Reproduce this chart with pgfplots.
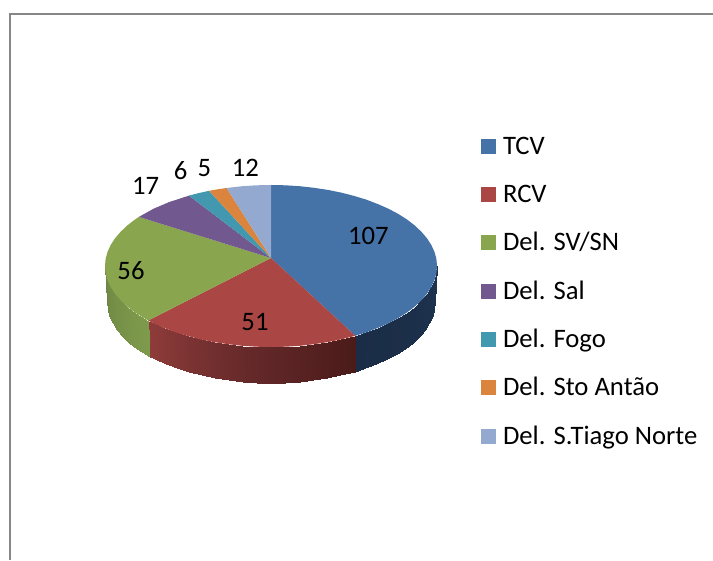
\documentclass[border=0pt]{standalone}
\usepackage{pgfplots}
\pgfplotsset{compat=1.18}
\usepackage{pgfplotstable}
\usepackage{fontspec}
\setmainfont{Carlito}
\definecolor{cA}{HTML}{4572A7}
\definecolor{cB}{HTML}{AA4643}
\definecolor{cC}{HTML}{89A54E}
\definecolor{cD}{HTML}{71588F}
\definecolor{cE}{HTML}{4198AF}
\definecolor{cF}{HTML}{DB843D}
\definecolor{cG}{HTML}{93A9CF}
\pgfplotstableread{
x y c
437 266 50
435 302 50
436.4 273.1 49
434.4 309.1 49
434.5 280.1 48
432.5 316.1 48
431.3 287 47
429.4 323 47
427 293.7 46
425.1 329.7 46
421.4 300.2 45
419.6 336.2 45
414.8 306.5 44
413 342.5 44
407 312.5 43
405.3 348.5 43
398.2 318.1 42
396.6 354.1 42
388.4 323.3 41.5
387 359.3 41.5
377.7 328 41
376.4 364 41
366.2 332.4 40.5
365.1 368.4 40.5
355.3 335.8 40
354.8 371.8 40
}\sideA
\pgfplotstableread{
x y c
355.3 335.8 20
354.8 371.8 20
341.2 339.4 20.7
340.3 375.4 20.7
327.8 342.1 21.3
327.1 378.1 21.3
314 344.2 22
313.4 380.2 22
299.8 345.8 22.6
299.5 381.8 22.6
285.5 346.7 23.3
285.3 382.7 23.3
271 347 23.9
271 383 23.9
256.5 346.7 24.5
256.7 382.7 24.5
242.2 345.8 25.2
242.5 381.8 25.2
228 344.2 25.8
228.6 380.2 25.8
214.2 342.1 26.5
214.9 378.1 26.5
200.8 339.4 27.1
201.7 375.4 27.1
188 336.1 27.7
189 372.1 27.7
175.8 332.4 28.4
176.9 368.4 28.4
164.3 328 29
165.6 364 29
153.6 323.3 29.7
155 359.3 29.7
148.2 320.5 30
149.7 356.5 30
}\sideB
\pgfplotstableread{
x y c
148.2 320.5 10
149.7 356.5 10
135 312.5 8.3
136.7 348.5 8.3
127.2 306.5 7.1
129 342.5 7.1
120.6 300.2 5.9
122.4 336.2 5.9
115 293.7 4.7
116.9 329.7 4.7
110.7 287 3.5
112.6 323 3.5
107.5 280.1 2.4
109.5 316.1 2.4
105.6 273.1 1.2
107.6 309.1 1.2
105 266 0
107 302 0
}\sideC
\begin{document}
\begin{tikzpicture}
\begin{axis}[
  scale only axis, width=534.75pt, height=420pt,
  xmin=0, xmax=713, ymin=0, ymax=560, y dir=reverse,
  hide axis, clip=false,
  font=\fontsize{20}{24}\selectfont,
  colormap={sides}{
    rgb255(0)=(110,134,67) rgb255(10)=(126,155,76)
    rgb255(20)=(74,27,25) rgb255(25)=(102,41,42) rgb255(30)=(142,60,58)
    rgb255(40)=(27,45,70) rgb255(50)=(30,51,80)},
  point meta min=0, point meta max=50,
  legend cell align=left,
  legend style={draw=none, fill=none, inner sep=0pt, outer sep=0pt,
    at={(481/713,1-134.2/560)}, anchor=north west,
    row sep=18.25pt,
    nodes={inner sep=0pt, text height=15pt, text depth=3pt, anchor=west},
    font=\fontsize{20}{24}\selectfont,
    /tikz/column 1/.style={column sep=5.25pt}},
  legend image code/.code={\fill[#1] (0pt,-5.6pt) rectangle (11.25pt,5.6pt);},
]
% frame
\addplot[forget plot, color=black!47, line width=1.5pt] coordinates {(10,560)(10,14)(713,14)};
% sides
\addplot[forget plot, surf, shader=interp, mesh/cols=2, point meta=\thisrow{c}] table[x=x,y=y] {\sideA};
\addplot[forget plot, surf, shader=interp, mesh/cols=2, point meta=\thisrow{c}] table[x=x,y=y] {\sideB};
\addplot[forget plot, surf, shader=interp, mesh/cols=2, point meta=\thisrow{c}] table[x=x,y=y] {\sideC};
% top faces
\addplot[fill=cA, draw=none] coordinates {(271,258)(271,185)(285.5,185.3)(299.8,186.2)(314,187.8)(327.8,189.9)(341.2,192.6)(354,195.9)(366.2,199.6)(377.7,204)(388.4,208.7)(398.2,213.9)(407,219.5)(414.8,225.5)(421.4,231.8)(427,238.3)(431.3,245)(434.5,251.9)(436.4,258.9)(437,266)(436.4,273.1)(434.5,280.1)(431.3,287)(427,293.7)(421.4,300.2)(414.8,306.5)(407,312.5)(398.2,318.1)(388.4,323.3)(377.7,328)(366.2,332.4)(355.3,335.8)} --cycle;
\addlegendentry{TCV}
\addplot[fill=cB, draw=none] coordinates {(271,258)(355.3,335.8)(341.2,339.4)(327.8,342.1)(314,344.2)(299.8,345.8)(285.5,346.7)(271,347)(256.5,346.7)(242.2,345.8)(228,344.2)(214.2,342.1)(200.8,339.4)(188,336.1)(175.8,332.4)(164.3,328)(153.6,323.3)(148.2,320.5)} --cycle;
\addlegendentry{RCV}
\addplot[fill=cC, draw=none] coordinates {(271,258)(148.2,320.5)(135,312.5)(127.2,306.5)(120.6,300.2)(115,293.7)(110.7,287)(107.5,280.1)(105.6,273.1)(105,266)(105.6,258.9)(107.5,251.9)(110.7,245)(115,238.3)(120.6,231.8)(127.2,225.5)(135,219.5)(138.9,216.9)} --cycle;
\addlegendentry{Del. SV/SN}
\addplot[fill=cD, draw=none] coordinates {(271,258)(138.9,216.9)(153.6,208.7)(168.8,202.2)(189,195.6)} --cycle;
\addlegendentry{Del. Sal}
\addplot[fill=cE, draw=none] coordinates {(271,258)(189,195.6)(198.2,193.2)(209.1,190.8)} --cycle;
\addlegendentry{Del. Fogo}
\addplot[fill=cF, draw=none] coordinates {(271,258)(209.1,190.8)(217,189.4)(226.6,188)} --cycle;
\addlegendentry{Del. Sto Antão}
\addplot[fill=cG, draw=none] coordinates {(271,258)(226.6,188)(242.2,186.2)(256.5,185.3)(271,185)} --cycle;
\addlegendentry{Del. S.Tiago Norte}
% value labels
\addplot[forget plot, draw=none, mark=none, nodes near coords, point meta=explicit symbolic,
  every node near coord/.append style={anchor=center, inner sep=0pt, font=\fontsize{20}{24}\selectfont}]
  coordinates {(368.3,235.6)[107] (255,322)[51] (131,270.6)[56] (145.7,186.3)[17] (180.7,170.3)[6] (204.3,168)[5] (245.3,168)[12]};
\end{axis}
\pgfresetboundingbox
\path[use as bounding box] (0,0) rectangle (534.75pt,420pt);
\end{tikzpicture}
\end{document}
